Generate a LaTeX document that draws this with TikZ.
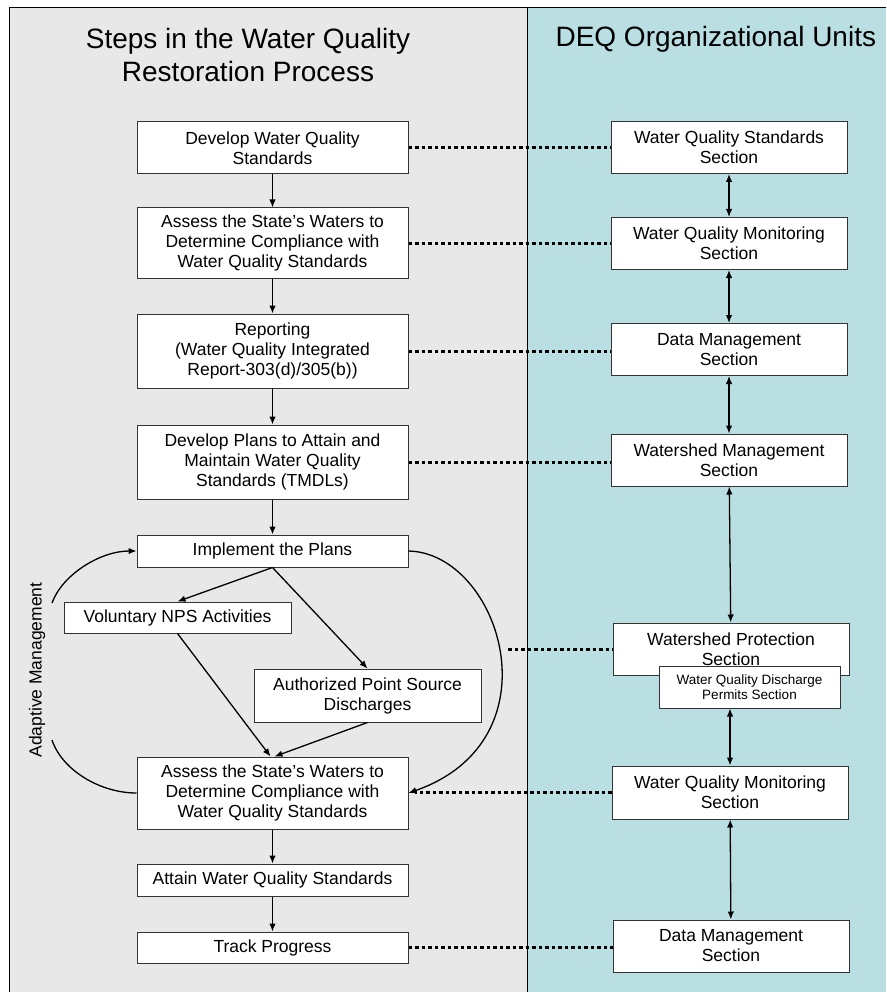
\documentclass[tikz,border=0pt]{standalone}
\usepackage{fontspec}
\setmainfont{Liberation Sans}
\usetikzlibrary{arrows.meta}
\definecolor{stepgray}{RGB}{232,232,232}
\definecolor{unitteal}{RGB}{186,223,227}
\newcommand*{\lcol }{272.5}
\newcommand*{\rcol }{729}
\newcommand*{\hdfont }{\fontsize{28}{33}\selectfont}
\newcommand*{\bxfont }{\fontsize{17.5}{20}\selectfont}
\newcommand*{\smfont }{\fontsize{13.5}{15}\selectfont}
\tikzset{
    stepbox/.style = {draw=black!80, line width=1pt, fill=white, align=center, inner sep=1pt, font=\bxfont, minimum width=271pt},
    unitbox/.style = {stepbox, minimum width=236pt},
    flow/.style    = {-{Latex[length=8pt,width=6.5pt]}, line width=1.3pt},
    twoway/.style  = {{Latex[length=8pt,width=6.5pt]}-{Latex[length=8pt,width=6.5pt]}, line width=1.3pt},
    dotlink/.style = {line width=3pt, dash pattern=on 3.5pt off 3pt},
}

\begin{document}
\begin{tikzpicture}[x=1pt, y=-1pt]
    \useasboundingbox (0,0) rectangle (886,992);
    % panels
    \fill [stepgray] (9,8) rectangle (527,992);
    \fill [unitteal] (527,8) rectangle (886,992);
    \draw [line width=1pt] (9,992) -- (9,8) -- (886,8);
    \draw [line width=1pt] (527,8) -- (527,992);
    \node [font=\hdfont, align=center] (lhead) at (248,55) {Steps in the Water Quality\\Restoration Process};
    \node [font=\hdfont, anchor=west] (rhead) at (552,39) {DEQ Organizational Units};

    % steps
    \node [stepbox, minimum height=52pt] (dev)     at (\lcol,148) {Develop Water Quality\\Standards};
    \node [stepbox, minimum height=70pt] (assessa) at (\lcol,243) {Assess the State’s Waters to\\Determine Compliance with\\Water Quality Standards};
    \node [stepbox, minimum height=74pt] (report)  at (\lcol,351) {Reporting\\(Water Quality Integrated\\Report-303(d)/305(b))};
    \node [stepbox, minimum height=74pt] (plans)   at (\lcol,462) {Develop Plans to Attain and\\Maintain Water Quality\\Standards (TMDLs)};
    \node [stepbox, minimum height=32pt] (impl)    at (\lcol,551) {Implement the Plans};
    \node [stepbox, minimum height=31pt, minimum width=227pt] (nps) at (177.5,617.5) {Voluntary NPS Activities};
    \node [stepbox, minimum height=53pt, minimum width=227pt] (aps) at (367.5,695.5) {Authorized Point Source\\Discharges};
    \node [stepbox, minimum height=72pt] (assessb) at (\lcol,793) {Assess the State’s Waters to\\Determine Compliance with\\Water Quality Standards};
    \node [stepbox, minimum height=32pt] (attain)  at (\lcol,880) {Attain Water Quality Standards};
    \node [stepbox, minimum height=31pt] (track)   at (\lcol,947.5) {Track Progress};

    % units
    \node [unitbox, minimum height=52pt] (wqs)  at (\rcol,147.5) {Water Quality Standards\\Section};
    \node [unitbox, minimum height=52pt] (wqm)  at (\rcol,243.5) {Water Quality Monitoring\\Section};
    \node [unitbox, minimum height=52pt] (dm)   at (\rcol,349.5) {Data Management\\Section};
    \node [unitbox, minimum height=52pt] (wsm)  at (\rcol,460)   {Watershed Management\\Section};
    \node [unitbox, minimum height=52pt] (wsp)  at (731,649)     {Watershed Protection\\Section};
    \node [unitbox, minimum height=42pt, minimum width=181pt, font=\smfont] (wqd) at (749.5,687) {Water Quality Discharge\\Permits Section};
    \node [unitbox, minimum height=53pt] (wqmb) at (730,792.5)   {Water Quality Monitoring\\Section};
    \node [unitbox, minimum height=52pt] (dmb)  at (731,946)     {Data Management\\Section};

    % step flow
    \draw [flow] (dev)     -- (assessa);
    \draw [flow] (assessa) -- (report);
    \draw [flow] (report)  -- (plans);
    \draw [flow] (plans)   -- (impl);
    \draw [flow] (impl.south) -- (nps.north);
    \draw [flow] (impl.south) -- (aps.north);
    \draw [flow] (nps.south) -- ([xshift=-2pt]assessb.north);
    \draw [flow] (aps.south) -- ([xshift=2pt]assessb.north);
    \draw [flow] (assessb) -- (attain);
    \draw [flow] (attain)  -- (track);

    % adaptive management loop
    \node [rotate=90, font=\bxfont] (adapt) at (37,670) {Adaptive Management};
    \coordinate (looptop) at (52,603);
    \coordinate (loopbot) at (52,740);
    \draw [flow] (looptop) .. controls (62,575) and (100,551) .. (impl.west);
    \draw [line width=1.3pt] (assessb.west) .. controls (100,793) and (62,770) .. (loopbot);
    \draw [flow] (impl.east) .. controls (500,553) and (560,740) .. (assessb.east);

    % unit links
    \draw [twoway] (wqs) -- (wqm);
    \draw [twoway] (wqm) -- (dm);
    \draw [twoway] (dm)  -- (wsm);
    \draw [twoway] (wsm) -- (wsp);
    \draw [twoway] (wqmb.north |- wqd.south) -- (wqmb.north);
    \draw [twoway] (wqmb) -- (dmb);

    % dotted ties
    \coordinate (wspend) at (508,649);
    \draw [dotlink] (dev.east)     -- (dev.east -| wqs.west);
    \draw [dotlink] (assessa.east) -- (assessa.east -| wqm.west);
    \draw [dotlink] (report.east)  -- (report.east -| dm.west);
    \draw [dotlink] (plans.east)   -- (plans.east -| wsm.west);
    \draw [dotlink] (wspend)       -- (wsp.west);
    \draw [dotlink] (wqmb.west)    -- ([xshift=6pt]wqmb.west -| assessb.east);
    \draw [dotlink] (track.east)   -- (track.east -| dmb.west);
\end{tikzpicture}
\end{document}
